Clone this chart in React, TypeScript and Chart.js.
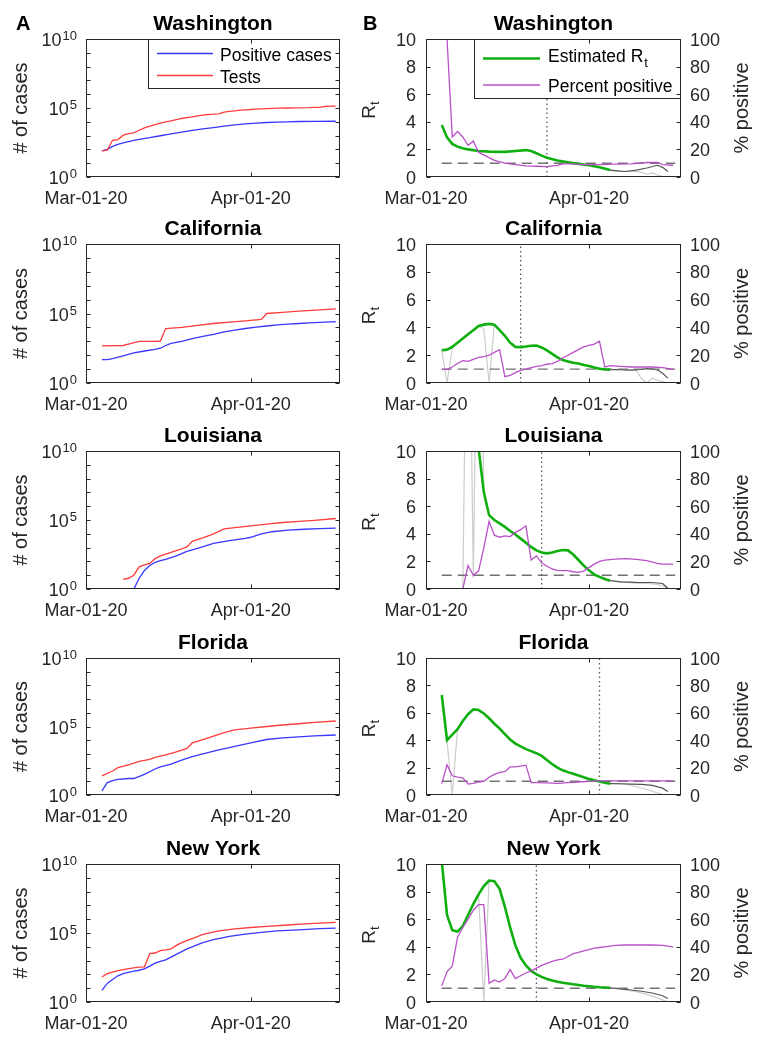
import React, { useEffect, useRef } from "react";
import { Chart, registerables } from "chart.js";

Chart.register(...registerables);

// ---------------- text / ticks ----------------
const stateNames = ["Washington", "California", "Louisiana", "Florida", "New York"];
const xTickDays = [0, 31];
const xTickLabels = ["Mar-01-20", "Apr-01-20"];
const logTickExps = [0, 5, 10];
const logMinorExps = [1, 2, 3, 4, 6, 7, 8, 9];
const rtTicks = [0, 2, 4, 6, 8, 10];
const pctTicks = [0, 20, 40, 60, 80, 100];
const casesLegend = ["Positive cases", "Tests"];
const rtLegend = ["Estimated R", "Percent positive"];
const refLineDays = [3, 47.4];
const refLineVals = [1, 1];

// ---------------- Washington ----------------
const waPosDays = [3, 4, 5, 6, 7, 8, 9, 10, 12, 14, 16, 18, 20, 22, 24, 26, 28, 30, 32, 34, 36, 38, 40, 43, 47];
const waPosVals = [78, 102, 166, 229, 295, 372, 457, 537, 708, 977, 1318, 1778, 2399, 3020, 3802, 4786, 5888, 7079, 8128, 8913, 9550, 10000, 10471, 10800, 11000];
const waTestDays = [3, 4, 5, 6, 7, 8, 9, 10, 11, 12, 13, 14, 15, 16, 17, 18, 19, 20, 21, 22, 23, 24, 25, 26, 27, 28, 29, 30, 31, 32, 33, 34, 36, 38, 39, 42, 43, 44, 45, 46, 47];
const waTestVals = [78, 89, 457, 513, 1072, 1413, 1585, 2455, 3631, 4786, 6310, 7943, 10000, 11749, 14454, 17378, 20417, 22909, 26915, 30200, 33884, 35481, 38019, 50119, 56234, 61660, 69183, 74131, 77625, 83176, 87096, 91201, 97724, 100000, 102329, 105000, 109648, 110000, 128825, 134896, 136000];
const waRtDays = [3, 4, 5, 6, 7, 8, 10, 12, 15, 17, 19, 20, 21, 22, 23, 25, 27, 29, 31, 33, 35];
const waRtVals = [3.77, 2.87, 2.4, 2.2, 2.08, 2.0, 1.88, 1.84, 1.82, 1.88, 1.95, 1.88, 1.72, 1.55, 1.4, 1.2, 1.06, 0.95, 0.85, 0.7, 0.5];
const waTailDays = [35, 37, 38, 40, 42, 44, 45, 46];
const waTailVals = [0.5, 0.42, 0.4, 0.5, 0.65, 0.85, 0.7, 0.4];
const waRawDays = [35, 37, 39, 41, 42, 43, 44, 45, 46];
const waRawVals = [0.5, 0.4, 0.42, 0.35, 0.2, 0.3, 0.15, 0.05, 0];
const waPctDays = [3, 4, 5, 6, 7, 8, 9, 10, 11, 12, 13, 15, 17, 19, 21, 23, 25, 26, 28, 30, 33, 36, 39, 42, 44, 45, 47];
const waPctVals = [100, 100, 29, 33, 29, 23, 26, 18, 16, 14, 12, 10, 9, 8, 7.8, 7.5, 8.5, 9.5, 9.5, 9, 9, 9.3, 9.5, 10.5, 10.5, 9, 8.5];
const waPolicyDay = 23;

// ---------------- California ----------------
const caPosDays = [3, 4, 5, 7, 9, 11, 13, 14, 15, 16, 18, 20, 22, 24, 26, 28, 30, 32, 34, 36, 38, 40, 42, 44, 47];
const caPosVals = [48, 48, 56, 89, 145, 200, 263, 316, 500, 708, 1000, 1585, 2239, 3162, 4786, 6310, 8318, 10471, 12589, 15136, 16982, 19055, 20893, 22909, 26303];
const caTestDays = [3, 7, 8, 10, 13, 14, 15, 18, 21, 24, 27, 30, 33, 34, 37, 40, 44, 47];
const caTestVals = [468, 500, 631, 1000, 1000, 1047, 8318, 10000, 14125, 19055, 23988, 29512, 38019, 100000, 120226, 147911, 181970, 218776];
const caRtDays = [3, 4, 5, 6, 7, 8, 9, 10, 11, 12, 13, 14, 15, 16, 17, 18, 19, 20, 21, 22, 23, 24, 25, 26, 27, 28, 29, 30, 31, 32, 33, 34, 35];
const caRtVals = [2.35, 2.4, 2.6, 2.9, 3.2, 3.5, 3.8, 4.1, 4.2, 4.25, 4.2, 3.8, 3.4, 2.9, 2.6, 2.58, 2.62, 2.68, 2.7, 2.55, 2.35, 2.1, 1.85, 1.65, 1.55, 1.45, 1.4, 1.3, 1.22, 1.12, 1.02, 0.98, 0.96];
const caTailDays = [35, 37, 39, 41, 42, 43, 44, 45, 46];
const caTailVals = [0.96, 0.96, 0.92, 0.98, 1.03, 1.02, 0.95, 0.7, 0.35];
const caRawDays = [3, 4, 5, 6, 7, 10, 11, 12, 13, 14, 15, 36, 38, 40, 41, 42, 43, 44, 45, 46];
const caRawVals = [2.35, 0, 2.5, 2.9, null, 4.1, 3.9, 0, 4.2, 3.8, null, 0.96, 0.95, 0.9, 0.3, 0, 0.35, 0.2, 0.1, 0];
const caPctDays = [3, 4, 5, 6, 7, 8, 9, 10, 11, 12, 13, 14, 15, 16, 17, 18, 19, 20, 21, 22, 23, 24, 25, 26, 27, 28, 29, 30, 31, 32, 33, 34, 35, 37, 39, 41, 43, 45, 47];
const caPctVals = [9.8, 9.8, 11.5, 14, 16, 15.5, 17, 18.5, 19, 20, 22, 24, 4.5, 5.5, 7.5, 9, 10, 11, 12, 12.5, 13.5, 14, 15.5, 18, 20, 22, 24, 26, 27, 28, 30, 11.5, 12.5, 12, 11.5, 11.5, 11.5, 11, 9.8];
const caPolicyDay = 18;

// ---------------- Louisiana ----------------
const laPosDays = [8, 9, 10, 11, 12, 13, 14, 15, 17, 19, 21, 24, 27, 30, 31, 33, 35, 38, 41, 44, 47];
const laPosVals = [1, 1, 6, 22, 50, 85, 112, 141, 251, 525, 891, 1995, 3162, 4677, 5623, 10000, 14125, 18621, 21380, 23988, 25704];
const laTestDays = [7, 8, 9, 10, 11, 12, 13, 14, 16, 18, 19, 20, 22, 24, 26, 28, 31, 34, 37, 40, 43, 47];
const laTestVals = [5, 6, 10, 40, 56, 71, 158, 251, 447, 794, 1122, 2818, 5012, 10000, 22387, 28184, 38019, 50119, 66069, 79433, 95499, 128825];
const laRtDays = [10, 11, 12, 13, 14, 15, 16, 17, 18, 19, 20, 21, 22, 23, 24, 25, 26, 27, 28, 29, 30, 31, 32, 33, 34, 35];
const laRtVals = [10.2, 7.0, 5.35, 5.0, 4.75, 4.5, 4.2, 3.95, 3.65, 3.35, 3.05, 2.8, 2.65, 2.58, 2.65, 2.75, 2.83, 2.8, 2.5, 2.1, 1.7, 1.35, 1.05, 0.88, 0.72, 0.6];
const laTailDays = [35, 37, 40, 43, 45, 46];
const laTailVals = [0.6, 0.52, 0.48, 0.47, 0.4, 0.05];
const laRawDays = [6, 7, 8, 9, 10, 11, 12, 13, 14, 36, 40, 43, 45, 46];
const laRawVals = [0, 0, 30, 0.8, 30, 7.0, 5.35, 5.0, null, 0.55, 0.42, 0.38, 0.25, 0.05];
const laPctDays = [7, 8, 9, 10, 11, 12, 13, 14, 15, 16, 17, 18, 19, 20, 21, 22, 23, 24, 25, 26, 27, 28, 29, 30, 31, 32, 33, 34, 36, 38, 40, 42, 44, 45, 47];
const laPctVals = [0, 17, 10, 13, 30, 49, 39, 37.5, 38.5, 38, 41, 43, 45.8, 21, 24, 19, 16.5, 14.5, 13.5, 13.3, 13.3, 12.5, 12, 13, 15.5, 18, 20, 21, 21.7, 22, 21.5, 20.5, 18.5, 18, 18];
const laPolicyDay = 22;

// ---------------- Florida ----------------
const flPosDays = [3, 4, 5, 6, 8, 9, 11, 13, 14, 16, 18, 20, 22, 25, 28, 31, 34, 37, 40, 43, 47];
const flPosVals = [2, 8, 11, 14, 16, 16, 32, 79, 112, 178, 355, 631, 1000, 1995, 3548, 6310, 11220, 14791, 17783, 20893, 23988];
const flTestDays = [3, 5, 6, 8, 10, 11, 12, 13, 15, 17, 19, 20, 22, 24, 26, 28, 31, 34, 37, 40, 43, 47];
const flTestVals = [25, 56, 100, 158, 282, 331, 398, 562, 832, 1413, 2512, 6310, 11220, 19953, 35481, 56234, 75858, 100000, 128825, 158489, 199526, 251189];
const flRtDays = [3, 4, 5, 6, 7, 8, 9, 10, 11, 12, 13, 14, 15, 16, 17, 18, 19, 20, 21, 22, 23, 24, 25, 26, 27, 28, 29, 30, 31, 32, 33, 34, 35];
const flRtVals = [7.3, 4.0, 4.4, 4.8, 5.4, 5.9, 6.25, 6.2, 5.95, 5.6, 5.2, 4.85, 4.45, 4.05, 3.75, 3.55, 3.35, 3.2, 3.05, 2.85, 2.55, 2.25, 2.0, 1.8, 1.67, 1.55, 1.42, 1.3, 1.17, 1.07, 0.98, 0.9, 0.83];
const flTailDays = [35, 37, 39, 41, 43, 45, 46];
const flTailVals = [0.83, 0.82, 0.8, 0.78, 0.7, 0.5, 0.25];
const flRawDays = [3, 4, 5, 6, 7, 36, 38, 40, 42, 44, 45, 46];
const flRawVals = [7.3, 3.9, 0, 4.8, null, 0.83, 0.8, 0.6, 0.4, 0.15, 0.05, 0];
const flPctDays = [3, 4, 5, 6, 7, 8, 9, 10, 11, 12, 13, 14, 15, 16, 17, 18, 19, 20, 21, 23, 25, 27, 29, 31, 33, 35, 40, 47];
const flPctVals = [8.3, 22, 14, 13, 12.5, 8, 8.5, 9.5, 10, 13, 15, 16.5, 17, 20.5, 20.5, 21, 21.8, 9, 9, 8.8, 8.5, 9, 9.5, 10, 10.3, 10.3, 10.3, 10.3];
const flPolicyDay = 33;

// ---------------- New York ----------------
const nyPosDays = [3, 4, 5, 6, 7, 8, 9, 10, 11, 12, 13, 14, 15, 16, 17, 18, 19, 20, 21, 22, 24, 27, 30, 33, 36, 40, 44, 47];
const nyPosVals = [7, 22, 42, 79, 112, 141, 170, 200, 251, 398, 661, 891, 1122, 1778, 2818, 4467, 7079, 10000, 14125, 19953, 33113, 56234, 83176, 112202, 141254, 169824, 204174, 229087];
const nyTestDays = [3, 4, 6, 8, 10, 11, 12, 13, 14, 15, 16, 17, 18, 20, 22, 25, 28, 31, 34, 38, 42, 47];
const nyTestVals = [65, 112, 191, 263, 331, 355, 3162, 3548, 5248, 6026, 7079, 12589, 19953, 39811, 79433, 141254, 199526, 251189, 301995, 380189, 478630, 588844];
const nyRtDays = [3, 4, 5, 6, 7, 8, 9, 10, 11, 12, 13, 14, 15, 16, 17, 18, 19, 20, 21, 22, 23, 24, 25, 26, 27, 28, 29, 30, 31, 32, 33, 34, 35];
const nyRtVals = [10.2, 6.3, 5.2, 5.1, 5.5, 6.3, 7.1, 7.8, 8.4, 8.8, 8.75, 8.2, 6.9, 5.4, 4.1, 3.2, 2.65, 2.25, 2.0, 1.82, 1.67, 1.55, 1.47, 1.4, 1.34, 1.28, 1.23, 1.18, 1.14, 1.1, 1.07, 1.05, 1.03];
const nyTailDays = [35, 37, 39, 41, 43, 45, 46];
const nyTailVals = [1.03, 0.95, 0.87, 0.78, 0.65, 0.45, 0.25];
const nyRawDays = [9, 10, 11, 12, 13, 14, 36, 40, 42, 44, 45, 46];
const nyRawVals = [7.1, 7.8, 0, 8.8, 8.75, null, 1.0, 0.75, 0.55, 0.3, 0.15, 0];
const nyPctDays = [3, 4, 5, 6, 7, 8, 9, 10, 11, 12, 13, 14, 15, 16, 17, 18, 19, 20, 21, 22, 23, 24, 25, 26, 27, 28, 29, 30, 31, 32, 33, 34, 36, 38, 40, 43, 45, 47];
const nyPctVals = [11.7, 22, 26, 47, 54, 60, 66.5, 70.5, 70.5, 13.5, 16, 14.5, 17, 23.5, 17, 19, 21, 22.5, 24.5, 26.5, 28, 29.5, 30.5, 31, 33, 35, 36, 37, 38, 39, 39.5, 40, 41, 41.3, 41.3, 41.3, 41, 40];
const nyPolicyDay = 21;

// ---------------- tables built from the arrays ----------------
const statesData = [
  { pos: [waPosDays, waPosVals], test: [waTestDays, waTestVals], rt: [waRtDays, waRtVals], tail: [waTailDays, waTailVals], raw: [waRawDays, waRawVals], pct: [waPctDays, waPctVals], policy: waPolicyDay },
  { pos: [caPosDays, caPosVals], test: [caTestDays, caTestVals], rt: [caRtDays, caRtVals], tail: [caTailDays, caTailVals], raw: [caRawDays, caRawVals], pct: [caPctDays, caPctVals], policy: caPolicyDay },
  { pos: [laPosDays, laPosVals], test: [laTestDays, laTestVals], rt: [laRtDays, laRtVals], tail: [laTailDays, laTailVals], raw: [laRawDays, laRawVals], pct: [laPctDays, laPctVals], policy: laPolicyDay },
  { pos: [flPosDays, flPosVals], test: [flTestDays, flTestVals], rt: [flRtDays, flRtVals], tail: [flTailDays, flTailVals], raw: [flRawDays, flRawVals], pct: [flPctDays, flPctVals], policy: flPolicyDay },
  { pos: [nyPosDays, nyPosVals], test: [nyTestDays, nyTestVals], rt: [nyRtDays, nyRtVals], tail: [nyTailDays, nyTailVals], raw: [nyRawDays, nyRawVals], pct: [nyPctDays, nyPctVals], policy: nyPolicyDay },
];

// ---------------- styling / layout ----------------
const FONT = '"Liberation Sans", Arial, Helvetica, sans-serif';
const AXIS = "#262626";
const BLUE = "rgb(55,55,255)";
const RED = "rgb(255,60,60)";
const GREEN = "rgb(15,175,15)";
const PURPLE = "rgb(185,80,200)";
const LGRAY = "rgb(205,205,205)";
const DGRAY = "rgb(85,85,85)";
const DASHC = "rgb(115,115,115)";

const PLOT_TOPS = [39, 244, 451, 658, 864];
const PLOT_BOTTOMS = [177, 383, 589, 795, 1002];
const CANVAS_H = 218;
const PAD_TOP = 39;
const LEFT_W = 350;
const RIGHT_X = 350;
const RIGHT_W = 414;
const L_PLOT = [86, 340];
const R_PLOT = [76, 331];

const f = (size: number, bold = false) => `${bold ? "bold " : ""}${size}px ${FONT}`;
const pts = (days: number[], vals: (number | null)[]) => days.map((d, i) => ({ x: d, y: vals[i] }));

function drawFrame(ctx: any, a: any) {
  ctx.strokeStyle = AXIS;
  ctx.lineWidth = 1;
  const L = Math.round(a.left) + 0.5, R = Math.round(a.right) - 0.5;
  const T = Math.round(a.top) + 0.5, B = Math.round(a.bottom) - 0.5;
  ctx.strokeRect(L, T, R - L, B - T);
  return { L, R, T, B };
}

function drawXAxis(ctx: any, sx: any, box: any) {
  ctx.beginPath();
  xTickDays.forEach((d) => {
    const px = Math.round(sx.getPixelForValue(d)) + 0.5;
    ctx.moveTo(px, box.B); ctx.lineTo(px, box.B - 4);
    ctx.moveTo(px, box.T); ctx.lineTo(px, box.T + 4);
  });
  ctx.stroke();
  ctx.fillStyle = AXIS;
  ctx.font = f(18);
  ctx.textAlign = "center";
  ctx.textBaseline = "alphabetic";
  xTickDays.forEach((d, i) => {
    ctx.fillText(xTickLabels[i], sx.getPixelForValue(d), box.B + 27);
  });
}

function drawTitle(ctx: any, a: any, title: string) {
  ctx.fillStyle = "#000";
  ctx.font = f(21, true);
  ctx.textAlign = "center";
  ctx.textBaseline = "alphabetic";
  ctx.fillText(title, (a.left + a.right) / 2, a.top - 9);
}

function drawLegend(ctx: any, a: any, lg: any) {
  const x0 = Math.round(a.left + lg.dx), x1 = Math.round(a.right), y0 = Math.round(a.top), y1 = Math.round(a.top + lg.h);
  ctx.fillStyle = "#fff";
  ctx.fillRect(x0, y0, x1 - x0, y1 - y0);
  ctx.strokeStyle = AXIS;
  ctx.lineWidth = 1;
  ctx.strokeRect(x0 + 0.5, y0 + 0.5, x1 - x0 - 1, y1 - y0 - 1);
  lg.items.forEach((it: any) => {
    const y = y0 + it.row;
    ctx.strokeStyle = it.color;
    ctx.lineWidth = it.width;
    ctx.setLineDash([]);
    ctx.beginPath();
    ctx.moveTo(x0 + lg.l0, y); ctx.lineTo(x0 + lg.l1, y);
    ctx.stroke();
    ctx.fillStyle = "#000";
    ctx.font = f(17.5);
    ctx.textAlign = "left";
    ctx.textBaseline = "alphabetic";
    ctx.fillText(it.label, x0 + lg.tx, y + it.base);
    if (it.sub) {
      const w = ctx.measureText(it.label).width;
      ctx.font = f(13);
      ctx.fillText(it.sub, x0 + lg.tx + w + 1, y + it.base + 5);
    }
  });
}

function casesDecor(row: number) {
  return {
    id: "decorCases" + row,
    afterDatasetsDraw(chart: any) {
      const { ctx, chartArea: a } = chart;
      const sx = chart.scales.x, sy = chart.scales.y;
      ctx.save();
      if (row === 0) {
        drawLegend(ctx, a, {
          dx: 62, h: 50, l0: 9, l1: 65, tx: 72,
          items: [
            { label: casesLegend[0], color: BLUE, width: 1.3, row: 14.5, base: 7 },
            { label: casesLegend[1], color: RED, width: 1.3, row: 36.5, base: 7 },
          ],
        });
      }
      const box = drawFrame(ctx, a);
      ctx.beginPath();
      logTickExps.concat(logMinorExps).forEach((e) => {
        const py = Math.round(sy.getPixelForValue(Math.pow(10, e))) + 0.5;
        const len = 4;
        ctx.moveTo(box.L, py); ctx.lineTo(box.L + len, py);
        ctx.moveTo(box.R, py); ctx.lineTo(box.R - len, py);
      });
      ctx.stroke();
      drawXAxis(ctx, sx, box);
      ctx.fillStyle = AXIS;
      ctx.textAlign = "left";
      ctx.textBaseline = "alphabetic";
      logTickExps.forEach((e) => {
        const py = sy.getPixelForValue(Math.pow(10, e));
        ctx.font = f(18);
        const wb = ctx.measureText("10").width;
        ctx.font = f(13);
        const ws = ctx.measureText(String(e)).width;
        const xr = a.left - 9;
        ctx.font = f(18);
        ctx.fillText("10", xr - ws - wb - 1, py + 7);
        ctx.font = f(13);
        ctx.fillText(String(e), xr - ws, py + 1);
      });
      ctx.save();
      ctx.translate(21.5, (a.top + a.bottom) / 2);
      ctx.rotate(-Math.PI / 2);
      ctx.font = f(20);
      ctx.textAlign = "center";
      ctx.textBaseline = "middle";
      ctx.fillStyle = AXIS;
      ctx.fillText("# of cases", 0, 0);
      ctx.restore();
      drawTitle(ctx, a, stateNames[row]);
      if (row === 0) {
        ctx.fillStyle = "#000";
        ctx.font = f(20, true);
        ctx.textAlign = "left";
        ctx.fillText("A", 16, 29.5);
      }
      ctx.restore();
    },
  };
}

function rtDecor(row: number) {
  return {
    id: "decorRt" + row,
    afterDatasetsDraw(chart: any) {
      const { ctx, chartArea: a } = chart;
      const sx = chart.scales.x, sy = chart.scales.y, sy2 = chart.scales.y2;
      ctx.save();
      if (row === 0) {
        drawLegend(ctx, a, {
          dx: 48, h: 60, l0: 9, l1: 66, tx: 74,
          items: [
            { label: rtLegend[0], sub: "t", color: GREEN, width: 2.6, row: 19.5, base: 3.5 },
            { label: rtLegend[1], color: PURPLE, width: 1.3, row: 46, base: 6.5 },
          ],
        });
      }
      const box = drawFrame(ctx, a);
      ctx.beginPath();
      rtTicks.forEach((v) => {
        const py = Math.round(sy.getPixelForValue(v)) + 0.5;
        ctx.moveTo(box.L, py); ctx.lineTo(box.L + 4, py);
      });
      pctTicks.forEach((v) => {
        const py = Math.round(sy2.getPixelForValue(v)) + 0.5;
        ctx.moveTo(box.R, py); ctx.lineTo(box.R - 4, py);
      });
      ctx.stroke();
      drawXAxis(ctx, sx, box);
      ctx.fillStyle = AXIS;
      ctx.font = f(18);
      ctx.textBaseline = "alphabetic";
      ctx.textAlign = "right";
      rtTicks.forEach((v) => ctx.fillText(String(v), a.left - 10, sy.getPixelForValue(v) + 6.5));
      ctx.textAlign = "left";
      pctTicks.forEach((v) => ctx.fillText(String(v), a.right + 9, sy2.getPixelForValue(v) + 6.5));
      ctx.save();
      ctx.translate(25, (a.top + a.bottom) / 2 + 2);
      ctx.rotate(-Math.PI / 2);
      ctx.font = f(19);
      const wR = ctx.measureText("R").width;
      ctx.font = f(13);
      const wt = ctx.measureText("t").width;
      const x0 = -(wR + wt) / 2;
      ctx.textAlign = "left";
      ctx.font = f(19);
      ctx.fillText("R", x0, 0);
      ctx.font = f(13);
      ctx.fillText("t", x0 + wR, 4);
      ctx.restore();
      ctx.save();
      ctx.translate(a.right + 61, (a.top + a.bottom) / 2);
      ctx.rotate(-Math.PI / 2);
      ctx.font = f(20);
      ctx.textAlign = "center";
      ctx.textBaseline = "middle";
      ctx.fillText("% positive", 0, 0);
      ctx.restore();
      drawTitle(ctx, a, stateNames[row]);
      if (row === 0) {
        ctx.fillStyle = "#000";
        ctx.font = f(20, true);
        ctx.textAlign = "left";
        ctx.textBaseline = "alphabetic";
        ctx.fillText("B", 13, 29.5);
      }
      ctx.restore();
    },
  };
}

function padding(row: number, plot: number[], width: number) {
  const h = PLOT_BOTTOMS[row] - PLOT_TOPS[row];
  return { left: plot[0], right: width - plot[1], top: PAD_TOP, bottom: CANVAS_H - PAD_TOP - h };
}

const baseLine = { pointRadius: 0, pointHoverRadius: 0, tension: 0, fill: false, spanGaps: false };

function casesConfig(row: number): any {
  const s = statesData[row];
  return {
    type: "line",
    data: {
      datasets: [
        { ...baseLine, data: pts(s.test[0] as number[], s.test[1] as number[]), borderColor: RED, borderWidth: 1.3 },
        { ...baseLine, data: pts(s.pos[0] as number[], s.pos[1] as number[]), borderColor: BLUE, borderWidth: 1.3 },
      ],
    },
    options: {
      responsive: false,
      animation: false,
      events: [],
      layout: { padding: padding(row, L_PLOT, LEFT_W) },
      scales: {
        x: { type: "linear", min: 0, max: 47.8, display: false },
        y: { type: "logarithmic", min: 1, max: 1e10, display: false },
      },
      plugins: { legend: { display: false }, tooltip: { enabled: false } },
    },
    plugins: [casesDecor(row)],
  };
}

function rtConfig(row: number): any {
  const s = statesData[row];
  return {
    type: "line",
    data: {
      datasets: [
        { ...baseLine, data: pts(s.pct[0] as number[], s.pct[1] as any), borderColor: PURPLE, borderWidth: 1.3, yAxisID: "y2" },
        { ...baseLine, data: pts(s.rt[0] as number[], s.rt[1] as any), borderColor: GREEN, borderWidth: 2.6, yAxisID: "y" },
        { ...baseLine, data: pts([s.policy, s.policy], [0, 10]), borderColor: DGRAY, borderWidth: 1.3, borderDash: [1.5, 3], yAxisID: "y" },
        { ...baseLine, data: pts(refLineDays, refLineVals), borderColor: DASHC, borderWidth: 1.4, borderDash: [10, 6], yAxisID: "y" },
        { ...baseLine, data: pts(s.tail[0] as number[], s.tail[1] as any), borderColor: DGRAY, borderWidth: 1.2, yAxisID: "y" },
        { ...baseLine, data: pts(s.raw[0] as number[], s.raw[1] as any), borderColor: LGRAY, borderWidth: 1.2, yAxisID: "y" },
      ],
    },
    options: {
      responsive: false,
      animation: false,
      events: [],
      layout: { padding: padding(row, R_PLOT, RIGHT_W) },
      scales: {
        x: { type: "linear", min: 0, max: 48.5, display: false },
        y: { type: "linear", min: 0, max: 10, display: false, position: "left" },
        y2: { type: "linear", min: 0, max: 100, display: false, position: "right" },
      },
      plugins: { legend: { display: false }, tooltip: { enabled: false } },
    },
    plugins: [rtDecor(row)],
  };
}

function Panel({ left, top, width, build }: { left: number; top: number; width: number; build: () => any }) {
  const ref = useRef<HTMLCanvasElement>(null);
  useEffect(() => {
    const chart = new Chart(ref.current as HTMLCanvasElement, build());
    return () => chart.destroy();
  }, []);
  return (
    <canvas
      ref={ref}
      width={width}
      height={CANVAS_H}
      style={{ position: "absolute", left, top, width, height: CANVAS_H }}
    />
  );
}

export default function App() {
  return (
    <div style={{ position: "absolute", left: 0, top: 0, width: 764, height: 1050, background: "#fff", overflow: "hidden" }}>
      {stateNames.map((_, row) => (
        <React.Fragment key={row}>
          <Panel left={0} top={PLOT_TOPS[row] - PAD_TOP} width={LEFT_W} build={() => casesConfig(row)} />
          <Panel left={RIGHT_X} top={PLOT_TOPS[row] - PAD_TOP} width={RIGHT_W} build={() => rtConfig(row)} />
        </React.Fragment>
      ))}
    </div>
  );
}
